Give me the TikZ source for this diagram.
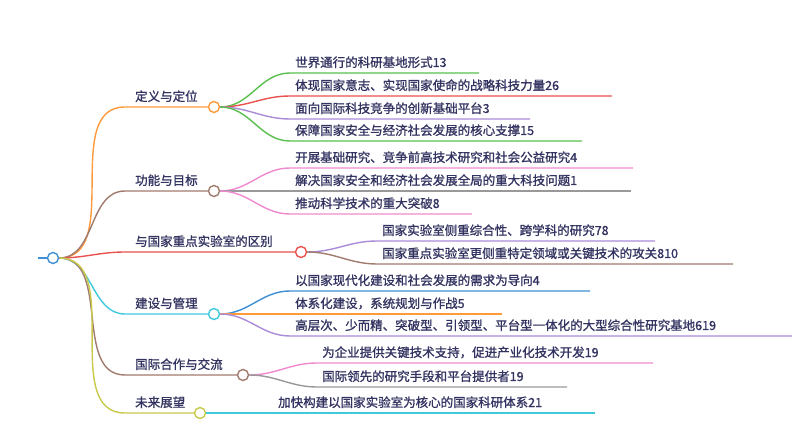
\documentclass[tikz,border=0pt]{standalone}
\usepackage{fontspec}
\newfontfamily\cjk[FakeBold=1.2]{Noto Sans CJK SC}
\begin{document}
\begin{tikzpicture}[x=1pt,y=-1pt]
	\tikzstyle{lien}=[line width=1.4pt]
	\tikzstyle{rond}=[circle,draw,line width=1.4pt,fill=white,minimum size=11pt,inner sep=0pt]
	\tikzstyle{texte}=[anchor=base west,inner sep=0pt,text=black!70!blue!60!gray,font=\cjk\fontsize{12.5}{14}\selectfont]
	\definecolor{orange}{HTML}{FF9A3C}
	\definecolor{brun}{HTML}{A07B6E}
	\definecolor{rouge}{HTML}{E8524F}
	\definecolor{cyan}{HTML}{3FC9DD}
	\definecolor{olive}{HTML}{C8C84A}
	\definecolor{vert}{HTML}{5BBF4F}
	\definecolor{violet}{HTML}{A98BD8}
	\definecolor{rose}{HTML}{F08AD0}
	\definecolor{gris}{HTML}{999999}
	\definecolor{bleu}{HTML}{3D8FD6}
	\useasboundingbox (0,0) rectangle (800,443);
	% racine et branches
	\coordinate (R0) at (38,258);
	\node[rond,draw=bleu] (R) at (53,258) {};
	\node[rond,draw=orange] (A) at (214,107) {};
	\node[rond,draw=brun] (B) at (214,191) {};
	\node[rond,draw=rouge] (C) at (301,252) {};
	\node[rond,draw=cyan] (D) at (214,314) {};
	\node[rond,draw=brun] (E) at (243,375) {};
	\node[rond,draw=olive] (F) at (200,413) {};
	\draw[lien,bleu] (R0)--(R.west);
	\foreach \n/\y/\c/\t in {A/107/orange/定义与定位,B/191/brun/功能与目标,C/252/rouge/与国家重点实验室的区别,D/314/cyan/建设与管理,E/375/brun/国际合作与交流,F/413/olive/未来展望}{
		\coordinate (\n0) at (125,\y);
		\draw[lien,\c] (R.east) to[out=0,in=180] (\n0) -- (\n.west);
		\node[texte] (\n t) at (135,\y-6) {\t};
	}
	% feuilles
	\foreach \p/\x/\y/\e/\c/\t in {
		A/290/73/479/vert/世界通行的科研基地形式13,
		A/290/96/612/rouge/体现国家意志、实现国家使命的战略科技力量26,
		A/290/119/530/violet/面向国际科技竞争的创新基础平台3,
		A/290/141/582/vert/保障国家安全与经济社会发展的核心支撑15,
		B/290/168/633/rose/开展基础研究、竞争前高技术研究和社会公益研究4,
		B/290/191/631/gris/解决国家安全和经济社会发展全局的重大科技问题1,
		B/290/214/472/rose/推动科学技术的重大突破8,
		C/377/241/655/violet/国家实验室侧重综合性、跨学科的研究78,
		C/377/264/733/brun/国家重点实验室更侧重特定领域或关键技术的攻关810,
		D/290/291/590/bleu/以国家现代化建设和社会发展的需求为导向4,
		D/290/314/502/orange/体系化建设，系统规划与作战5,
		D/290/336/792/violet/高层次、少而精、突破型、引领型、平台型一体化的大型综合性研究基地619,
		E/317/363/653/rose/为企业提供关键技术支持，促进产业化技术开发19,
		E/317/387/567/gris/国际领先的研究手段和平台提供者19,
		F/273/413/595/cyan/加快构建以国家实验室为核心的国家科研体系21}{
		\coordinate (s) at (\x,\y);
		\coordinate (e) at (\e,\y);
		\draw[lien,\c] (\p.east) to[out=0,in=180] (s) -- (e);
		\node[texte] at (\x+5,\y-6) {\t};
	}
\end{tikzpicture}
\end{document}
